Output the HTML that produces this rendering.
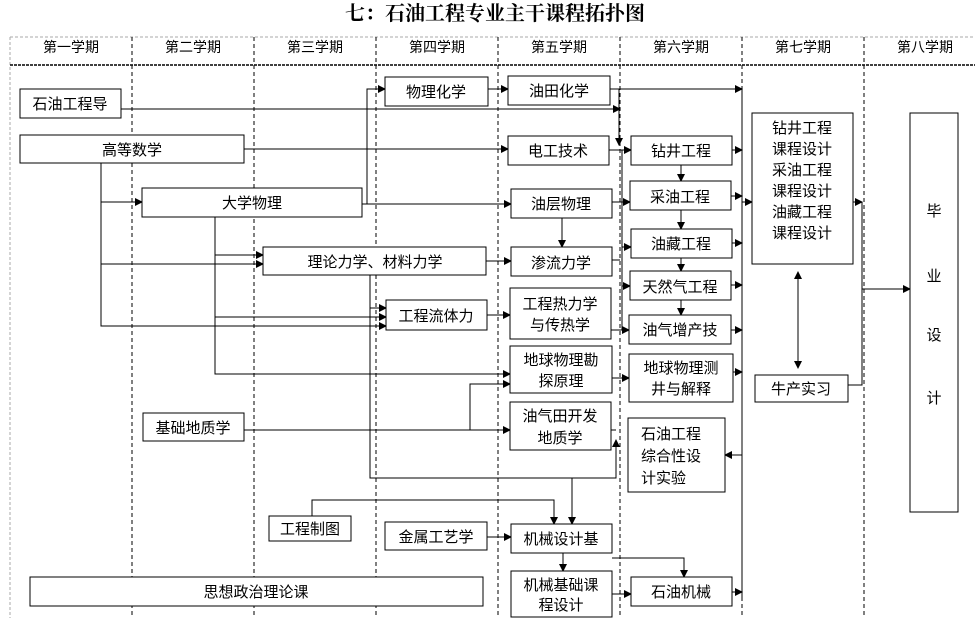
<!DOCTYPE html>
<html><head><meta charset="utf-8"><style>
body{margin:0;background:#fff}
svg{display:block}
text{font-family:"Liberation Sans","Noto Sans CJK SC",sans-serif;font-size:15px;fill:#000}
.h{font-size:14px}
</style></head><body>
<svg width="975" height="618" viewBox="0 0 975 618" xmlns="http://www.w3.org/2000/svg">
<defs><marker id="a" markerWidth="8" markerHeight="8" refX="7" refY="4" orient="auto" markerUnits="userSpaceOnUse"><path d="M0,0 L8,4 L0,8z" fill="#000"/></marker></defs>
<text x="495" y="20" text-anchor="middle" style="font-family:'Liberation Serif','Noto Serif CJK SC',serif;font-size:20px;font-weight:bold">七：石油工程专业主干课程拓扑图</text>
<g stroke="#aaa" stroke-dasharray="3,2" fill="none"><line x1="10" y1="37" x2="975" y2="37"/><line x1="10" y1="37" x2="10" y2="618"/></g>
<line x1="10" y1="65" x2="975" y2="65" stroke="#000" stroke-width="1.5" stroke-dasharray="3,1"/>
<g stroke="#000" stroke-dasharray="4,3"><line x1="132" y1="37" x2="132" y2="618"/><line x1="254" y1="37" x2="254" y2="618"/><line x1="376" y1="37" x2="376" y2="618"/><line x1="498" y1="37" x2="498" y2="618"/><line x1="620" y1="37" x2="620" y2="618"/><line x1="742" y1="37" x2="742" y2="618"/><line x1="864" y1="37" x2="864" y2="618"/></g>
<g class="h" text-anchor="middle">
<text x="71" y="52" class="h">第一学期</text><text x="193" y="52" class="h">第二学期</text><text x="315" y="52" class="h">第三学期</text><text x="437" y="52" class="h">第四学期</text><text x="559" y="52" class="h">第五学期</text><text x="681" y="52" class="h">第六学期</text><text x="803" y="52" class="h">第七学期</text><text x="925" y="52" class="h">第八学期</text></g>
<g stroke="#000" fill="none">
<path d="M121,109H620" marker-end="url(#a)"/><path d="M619,89V145" marker-end="url(#a)"/>
<path d="M488,89H508" marker-end="url(#a)"/><path d="M610,89H742" marker-end="url(#a)"/>
<path d="M362,204H511" marker-end="url(#a)"/><path d="M367,204V89H385" marker-end="url(#a)"/>
<path d="M244,149H508" marker-end="url(#a)"/><path d="M609,150H631" marker-end="url(#a)"/>
<path d="M101,163V326H386" marker-end="url(#a)"/><path d="M101,202H142" marker-end="url(#a)"/><path d="M101,264H263" marker-end="url(#a)"/>
<path d="M215,217V374H510" marker-end="url(#a)"/><path d="M215,255H263" marker-end="url(#a)"/><path d="M215,317H386" marker-end="url(#a)"/>
<path d="M370,308H386" marker-end="url(#a)"/><path d="M486,261H511" marker-end="url(#a)"/><path d="M487,315H510" marker-end="url(#a)"/>
<path d="M562,218V247" marker-end="url(#a)"/>
<path d="M612,202H630" marker-end="url(#a)"/><path d="M612,260H620"/><path d="M622,150V330"/><path d="M622,247H631" marker-end="url(#a)"/><path d="M622,286H630" marker-end="url(#a)"/><path d="M611,330H629" marker-end="url(#a)"/><path d="M612,378H629" marker-end="url(#a)"/>
<path d="M681,165V181" marker-end="url(#a)"/><path d="M681,210V229" marker-end="url(#a)"/><path d="M681,258V271" marker-end="url(#a)"/><path d="M681,300V315" marker-end="url(#a)"/>
<path d="M742,89V600"/><path d="M732,150H742" marker-end="url(#a)"/><path d="M731,196H742" marker-end="url(#a)"/><path d="M732,243H742" marker-end="url(#a)"/><path d="M731,285H742" marker-end="url(#a)"/><path d="M731,330H742" marker-end="url(#a)"/><path d="M733,372H742" marker-end="url(#a)"/><path d="M732,592H742" marker-end="url(#a)"/>
<path d="M742,202H752" marker-end="url(#a)"/><path d="M742,455H725" marker-end="url(#a)"/>
<path d="M853,202H862" marker-end="url(#a)"/><path d="M862,202V385H848"/><path d="M862,289H910" marker-end="url(#a)"/>
<path d="M798,272V368" marker-end="url(#a)"/><path d="M798,368V272" marker-end="url(#a)"/>
<path d="M244,430H510" marker-end="url(#a)"/><path d="M470,430V384H510" marker-end="url(#a)"/>
<path d="M370,275V478H616V440" marker-end="url(#a)"/><path d="M611,430H616"/><path d="M572,478V524" marker-end="url(#a)"/>
<path d="M312,516V500H554V524" marker-end="url(#a)"/><path d="M487,537H511" marker-end="url(#a)"/>
<path d="M563,553V571" marker-end="url(#a)"/><path d="M612,558H684V577" marker-end="url(#a)"/><path d="M612,594H631" marker-end="url(#a)"/>
</g>
<g fill="#fff" stroke="#000">
<rect x="20" y="89" width="101" height="29"/><rect x="20" y="135" width="224" height="28"/><rect x="142" y="188" width="220" height="29"/><rect x="263" y="247" width="223" height="28"/><rect x="386" y="300" width="101" height="30"/><rect x="385" y="77" width="103" height="29"/><rect x="508" y="76" width="102" height="29"/><rect x="508" y="136" width="101" height="29"/><rect x="511" y="189" width="101" height="29"/><rect x="511" y="247" width="101" height="29"/><rect x="510" y="288" width="101" height="51"/><rect x="510" y="346" width="102" height="47"/><rect x="510" y="402" width="101" height="48"/>
<rect x="631" y="136" width="101" height="29"/><rect x="630" y="181" width="101" height="29"/><rect x="631" y="229" width="101" height="29"/><rect x="630" y="271" width="101" height="29"/><rect x="629" y="315" width="102" height="29"/><rect x="629" y="354" width="104" height="48"/><rect x="628" y="418" width="97" height="74"/>
<rect x="752" y="113" width="101" height="151"/><rect x="755" y="375" width="93" height="27"/><rect x="910" y="113" width="48" height="399"/>
<rect x="269" y="516" width="82" height="25"/><rect x="385" y="522" width="102" height="28"/><rect x="511" y="524" width="101" height="29"/><rect x="511" y="571" width="101" height="46"/><rect x="631" y="577" width="101" height="29"/><rect x="30" y="577" width="453" height="29"/><rect x="143" y="413" width="101" height="28"/></g>
<g text-anchor="middle">
<text x="70" y="109">石油工程导</text><text x="132" y="155">高等数学</text><text x="252" y="208">大学物理</text><text x="375" y="267">理论力学、材料力学</text><text x="436" y="321">工程流体力</text><text x="436" y="97">物理化学</text><text x="559" y="96">油田化学</text><text x="558" y="156">电工技术</text><text x="561" y="209">油层物理</text><text x="561" y="268">渗流力学</text><text x="560" y="309">工程热力学</text><text x="560" y="330">与传热学</text><text x="561" y="365">地球物理勘</text><text x="561" y="386">探原理</text><text x="560" y="421">油气田开发</text><text x="560" y="443">地质学</text>
<text x="681" y="156">钻井工程</text><text x="680" y="202">采油工程</text><text x="681" y="249">油藏工程</text><text x="680" y="292">天然气工程</text><text x="680" y="335">油气增产技</text><text x="681" y="373">地球物理测</text><text x="681" y="394">井与解释</text>
<text x="802" y="133">钻井工程</text><text x="802" y="154">课程设计</text><text x="802" y="175">采油工程</text><text x="802" y="196">课程设计</text><text x="802" y="217">油藏工程</text><text x="802" y="238">课程设计</text>
<text x="801" y="394">牛产实习</text><text x="934" y="216">毕</text><text x="934" y="281">业</text><text x="934" y="340">设</text><text x="934" y="403">计</text>
<text x="310" y="534">工程制图</text><text x="436" y="542">金属工艺学</text><text x="561" y="544">机械设计基</text><text x="561" y="590">机械基础课</text><text x="561" y="610">程设计</text><text x="681" y="597">石油机械</text><text x="256" y="597">思想政治理论课</text><text x="193" y="433">基础地质学</text></g>
<text x="641" y="439">石油工程</text><text x="641" y="461">综合性设</text><text x="641" y="483">计实验</text>
</svg>
</body></html>
